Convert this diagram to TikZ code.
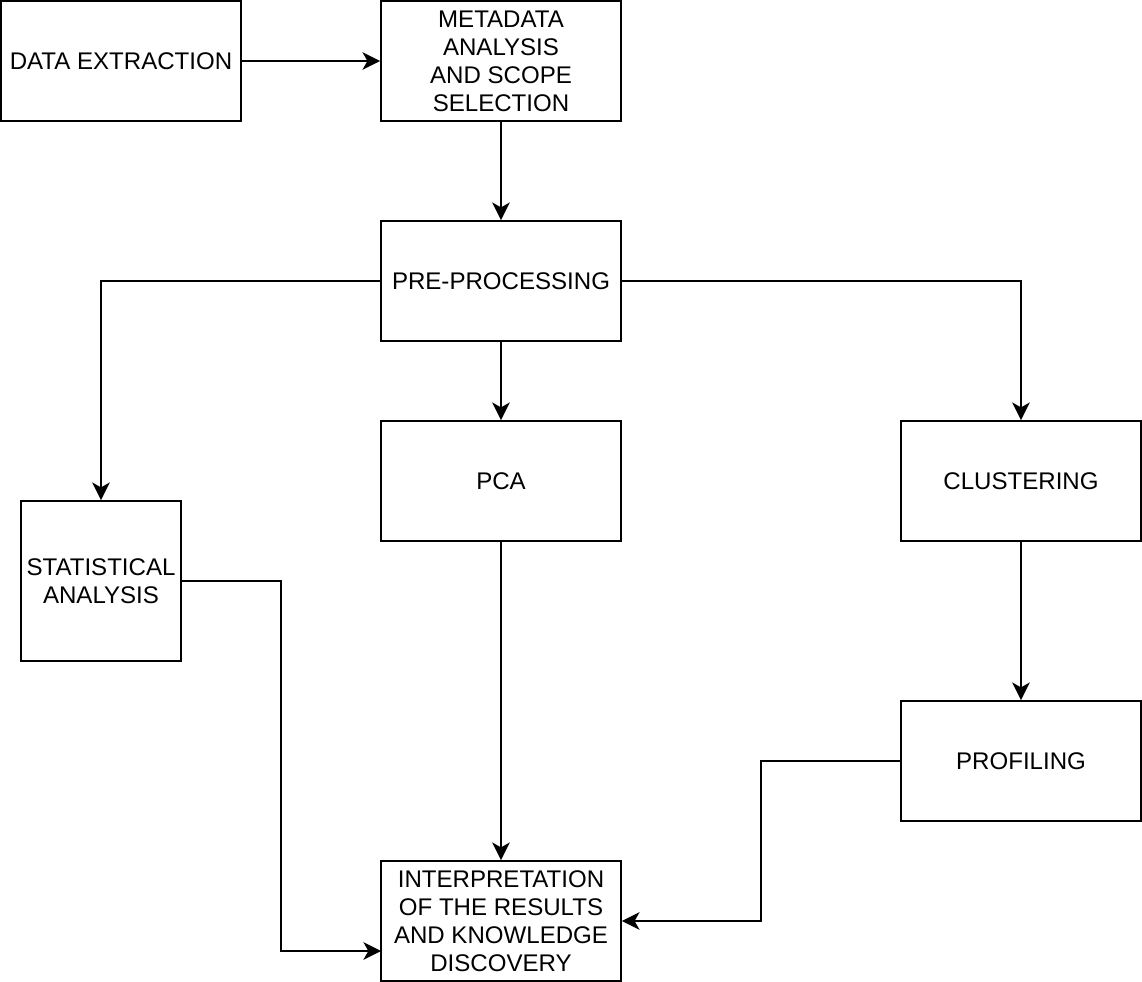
\documentclass[tikz,border=0pt]{standalone}
\usepackage{fontspec}
\setmainfont{Liberation Sans}
\usepackage{tikz}
\usetikzlibrary{arrows.meta}
\tikzstyle{block} = [rectangle, draw, line width=1.1pt, fill=white,
                 minimum width=4.8cm, minimum height=2.4cm, inner sep=2pt,
                 align=center, font=\fontsize{13.7}{15.9}\selectfont]
\tikzstyle{branch} = [line width=1.1pt, draw,
                 -{Stealth[length=10pt, width=10pt, inset=2.8pt]}]

\begin{document}
\begin{tikzpicture}[x=0.02cm, y=-0.02cm]

\useasboundingbox (0,0) rectangle (1142,982);

\node [block] at (121,61) (extract) {DATA EXTRACTION};
\node [block] at (501,61) (meta) {METADATA\\ANALYSIS\\AND SCOPE\\SELECTION};
\node [block] at (501,281) (prep) {PRE-PROCESSING};
\node [block] at (501,481) (pca) {PCA};
\node [block] at (1021,481) (clust) {CLUSTERING};
\node [block, minimum width=3.2cm, minimum height=3.2cm, inner sep=0pt]
      at (101,581) (stat) {STATISTICAL\\ANALYSIS};
\node [block] at (1021,761) (prof) {PROFILING};
\node [block] at (501,921) (interp)
      {INTERPRETATION\\OF THE RESULTS\\AND KNOWLEDGE\\DISCOVERY};

\coordinate (statin) at (381,951);

\path [branch] (extract.east) -- (meta.west);
\path [branch] (meta.south) -- (prep.north);
\path [branch] (prep.west) -| (stat.north);
\path [branch] (prep.south) -- (pca.north);
\path [branch] (prep.east) -| (clust.north);
\path [branch] (stat.east) -| (281,951) -- (statin);
\path [branch] (pca.south) -- (interp.north);
\path [branch] (clust.south) -- (prof.north);
\path [branch] (prof.west) -| (761,921) -- (interp.east);

\end{tikzpicture}
\end{document}
